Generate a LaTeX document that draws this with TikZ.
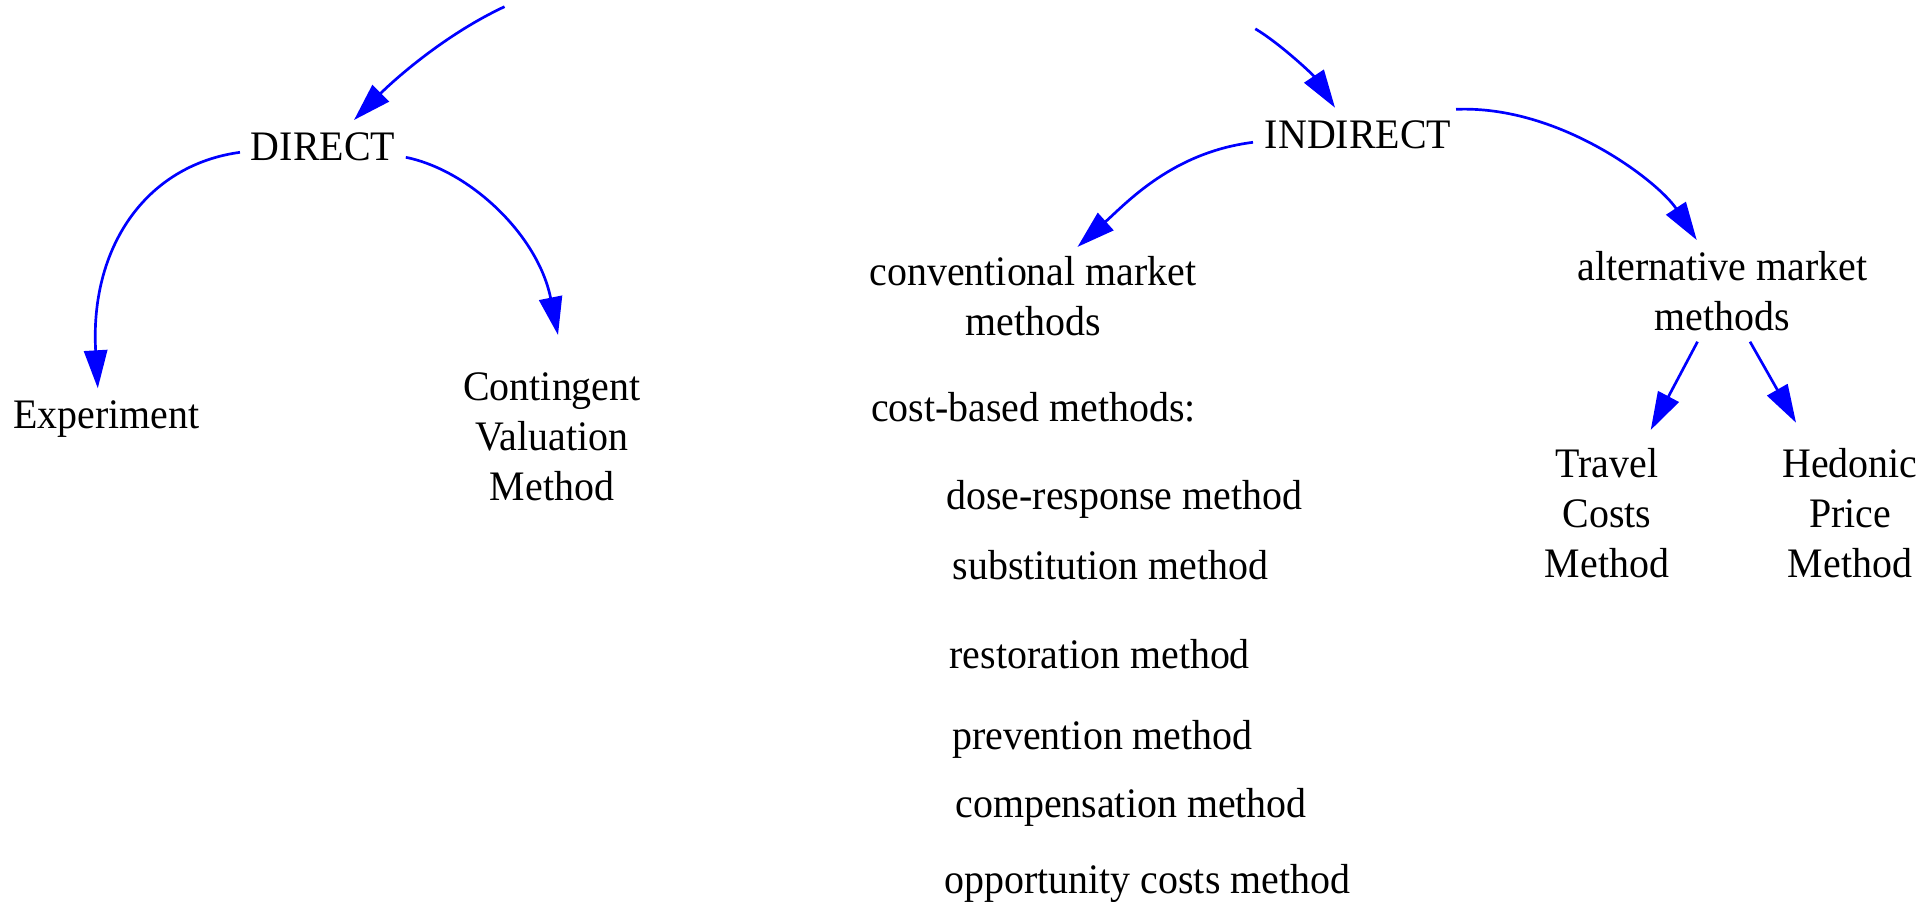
\documentclass[tikz,border=0pt]{standalone}
\usepackage{fontspec}
\setmainfont{Liberation Serif}[FakeStretch=0.95]
\usetikzlibrary{arrows.meta,calc}
\begin{document}
\begin{tikzpicture}[x=0.25pt,y=-0.25pt,
  lbl/.style={inner sep=0pt, outer sep=0pt, anchor=base, align=center,
    font=\fontsize{10.5}{12.5}\selectfont},
  item/.style={inner sep=0pt, outer sep=0pt, anchor=base west,
    font=\fontsize{10.5}{12.5}\selectfont},
  link/.style={draw=blue, line width=0.67pt,
    -{Triangle[length=9.5pt,width=5.8pt]}}]
\useasboundingbox (0,0) rectangle (1924,901);

% nodes (base = baseline of the last line)
\node[lbl] (direct) at (323,160.7) {DIRECT};
\node[lbl] (exper) at (106.5,428.3) {Experiment};
\node[lbl] (cvm) at (552,500) {Contingent\\Valuation\\Method};
\node[lbl] (indirect) at (1358,148) {INDIRECT};
\node[lbl] (conv) at (1033,335.4) {conventional market\\methods};
\node[lbl] (alt) at (1722.5,330) {alternative market\\methods};
\node[lbl] (travel) at (1607,577.3) {Travel\\Costs\\Method};
\node[lbl] (hedonic) at (1850,577.3) {Hedonic\\Price\\Method};

\node[item] (costbased) at (871,421) {cost-based methods:};
\node[item] (dose) at (946.5,509.5) {dose-response method};
\node[item] (subst) at (952.6,579) {substitution method};
\node[item] (restor) at (949.6,668) {restoration method};
\node[item] (prevent) at (952.3,749) {prevention method};
\node[item] (compens) at (955.4,817.6) {compensation method};
\node[item] (opport) at (944.6,893) {opportunity costs method};

% free ends
\coordinate (top1) at (504.5,6.7);
\coordinate (top2) at (1255.3,28.8);

% connectors
\draw[link] (top1) .. controls +(-60,28) and +(40,-40) .. ($(direct.base)+(31,-40.7)$);
\draw[link] ($(direct.base)+(-83,-8.4)$) .. controls +(-95,13) and +(-8,-140) .. ($(exper.base)+(-8.7,-40)$);
\draw[link] ($(direct.base)+(82.8,-3.4)$) .. controls +(64,13) and +(-20,-100) .. ($(cvm.base)+(6,-165)$);

\draw[link] (top2) .. controls +(25,15) and +(-22,-33) .. ($(indirect.base)+(-23,-40.3)$);
\draw[link] ($(indirect.base)+(-105,-5.7)$) .. controls +(-80,10) and +(50,-45) .. ($(conv.base)+(44.5,-88.5)$);
\draw[link] ($(indirect.base)+(98,-38.7)$) .. controls +(104,-4.3) and +(-38,-58) .. ($(alt.base)+(-25.8,-90)$);
\draw[link] ($(alt.base)+(-25,11.7)$) -- ($(travel.base)+(43.7,-147.3)$);
\draw[link] ($(alt.base)+(27.5,11.7)$) -- ($(hedonic.base)+(-54,-154.6)$);
\end{tikzpicture}
\end{document}
